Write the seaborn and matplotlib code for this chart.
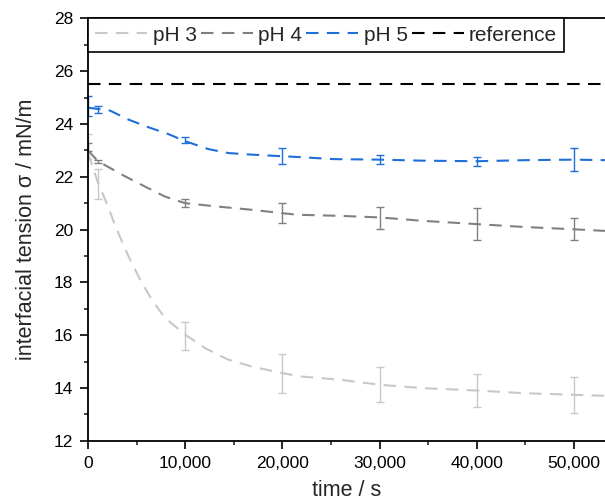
import numpy as np
import pandas as pd
import seaborn as sns
import matplotlib.pyplot as plt
from matplotlib.lines import Line2D
from matplotlib.ticker import MultipleLocator, FuncFormatter

# measured points (time in s, tension in mN/m, std)
t_meas = [0, 1000, 10000, 20000, 30000, 40000, 50000]
ph3_mean = [23.15, 21.72, 15.98, 14.55, 14.12, 13.91, 13.73]
ph3_err = [0.47, 0.57, 0.53, 0.75, 0.67, 0.62, 0.68]
ph4_mean = [23.13, 22.57, 21.00, 20.62, 20.43, 20.22, 20.02]
ph4_err = [0.15, 0.05, 0.16, 0.37, 0.41, 0.60, 0.40]
ph5_mean = [24.68, 24.56, 23.39, 22.78, 22.66, 22.58, 22.65]
ph5_err = [0.38, 0.14, 0.11, 0.31, 0.18, 0.18, 0.44]

# fitted curves
ph3_t = [0, 1000, 1750, 2950, 4150, 5350, 6550, 7920, 10000, 12040, 14430, 16840,
         20000, 21980, 25930, 30000, 34500, 40000, 44800, 50000, 53200]
ph3_fit = [22.9, 21.8, 21.15, 20.01, 19.0, 18.11, 17.35, 16.65, 16.02, 15.51, 15.07, 14.81,
           14.56, 14.43, 14.31, 14.12, 13.99, 13.90, 13.80, 13.74, 13.70]
ph4_t = [0, 1000, 1750, 3800, 5860, 7920, 10000, 13400, 16840, 20000, 21640, 25930,
         30000, 34500, 38960, 44790, 50000, 53200]
ph4_fit = [23.0, 22.6, 22.44, 22.02, 21.63, 21.25, 21.0, 20.87, 20.75, 20.62, 20.56, 20.52,
           20.46, 20.33, 20.23, 20.10, 20.01, 19.95]
ph5_t = [0, 1000, 2260, 4150, 6200, 8260, 10000, 12380, 14430, 16840, 18900, 21600,
         25240, 30000, 34500, 40000, 45000, 50000, 53200]
ph5_fit = [24.62, 24.57, 24.51, 24.17, 23.88, 23.62, 23.35, 23.05, 22.90, 22.84, 22.80, 22.75,
           22.67, 22.65, 22.61, 22.59, 22.63, 22.65, 22.63]
reference = 25.5

labels = ['pH 3', 'pH 4', 'pH 5', 'reference']
colors = ['#C8C8C8', '#808080', '#1F6FDB', '#000000']

sns.set_style('ticks')
plt.rcParams['font.family'] = ['Liberation Sans', 'DejaVu Sans']

curves = pd.concat([
    pd.DataFrame({'t': ph3_t, 'v': ph3_fit, 'series': 'pH 3'}),
    pd.DataFrame({'t': ph4_t, 'v': ph4_fit, 'series': 'pH 4'}),
    pd.DataFrame({'t': ph5_t, 'v': ph5_fit, 'series': 'pH 5'}),
])

fig = plt.figure(figsize=(6.05, 5.03), dpi=100)
ax = fig.add_axes([0.1455, 0.1239, 0.8545, 0.8394])

dash = (6, 4)
sns.lineplot(data=curves, x='t', y='v', hue='series', style='series',
             palette=dict(zip(labels[:3], colors[:3])),
             dashes={s: dash for s in labels[:3]},
             linewidth=1.5, legend=False, ax=ax, sort=False)
ax.axhline(reference, color=colors[3], lw=1.5, dashes=dash)

for m, e, c in [(ph3_mean, ph3_err, colors[0]), (ph4_mean, ph4_err, colors[1]),
                (ph5_mean, ph5_err, colors[2])]:
    ax.errorbar(t_meas, m, yerr=e, fmt='none', ecolor=c, elinewidth=1,
                capsize=3, capthick=1)

ax.set_xlim(0, 53200)
ax.set_ylim(12, 28)
ax.xaxis.set_major_locator(MultipleLocator(10000))
ax.xaxis.set_minor_locator(MultipleLocator(5000))
ax.yaxis.set_major_locator(MultipleLocator(2))
ax.yaxis.set_minor_locator(MultipleLocator(1))
ax.xaxis.set_major_formatter(FuncFormatter(lambda x, p: f'{int(x):,}'))
ax.tick_params(which='major', direction='out', length=5.8, width=1.2,
               labelsize=12.5, colors='black', pad=5)
ax.tick_params(which='minor', direction='out', length=3, width=1.2)
ax.tick_params(top=False, right=False)
for s in ['left', 'bottom', 'top']:
    ax.spines[s].set_visible(True)
    ax.spines[s].set_color('black')
    ax.spines[s].set_linewidth(1.3)
ax.spines['right'].set_visible(False)

ax.set_xlabel('time / s', fontsize=15.5, labelpad=7)
ax.set_ylabel('interfacial tension σ / mN/m', fontsize=15.5, labelpad=12)

handles = [Line2D([], [], color=c, lw=1.5, dashes=dash) for c in colors]
leg = ax.legend(handles, labels, loc='upper left', bbox_to_anchor=(0, 1),
                borderaxespad=0, ncol=4, fontsize=15, handlelength=2.5,
                handletextpad=0.25, columnspacing=0.2, borderpad=0.35,
                fancybox=False, framealpha=1, edgecolor='black')
leg.get_frame().set_linewidth(1.2)

fig.savefig('out.png', dpi=100)
